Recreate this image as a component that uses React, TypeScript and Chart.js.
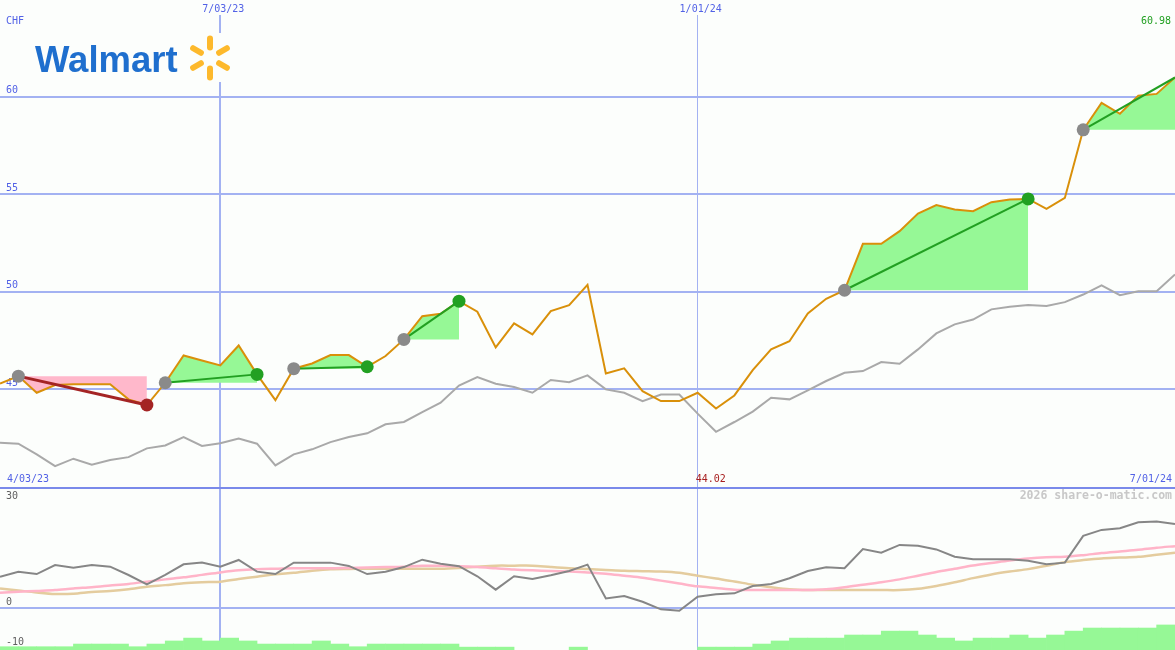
import React, { useEffect, useRef } from 'react';
import { Chart, registerables } from 'chart.js';

Chart.register(...registerables);

// ---------- data ----------
const price = [
  45.3, 45.68, 44.83, 45.22, 45.26, 45.26, 45.26, 44.49, 44.2, 45.34,
  46.74, 46.48, 46.23, 47.25, 45.77, 44.45, 46.06, 46.33, 46.76, 46.76,
  46.16, 46.71, 47.56, 48.75, 48.87, 49.52, 48.98, 47.15, 48.38, 47.82,
  49.01, 49.32, 50.36, 45.82, 46.08, 44.91, 44.4, 44.4, 44.83, 44.02,
  44.69, 45.99, 47.05, 47.47, 48.89, 49.64, 50.08, 52.46, 52.46, 53.11,
  54.01, 54.44, 54.22, 54.13, 54.59, 54.73, 54.76, 54.25, 54.81, 58.3,
  59.68, 59.12, 60.05, 60.14, 60.98,
];

const compare = [
  42.27, 42.22, 41.67, 41.07, 41.45, 41.14, 41.38, 41.53, 41.98, 42.13,
  42.56, 42.1, 42.24, 42.48, 42.22, 41.11, 41.67, 41.93, 42.3, 42.56,
  42.75, 43.21, 43.33, 43.84, 44.32, 45.2, 45.63, 45.29, 45.12, 44.83,
  45.48, 45.37, 45.72, 45.0, 44.83, 44.4, 44.74, 44.74, 43.76, 42.83,
  43.33, 43.86, 44.57, 44.49, 44.95, 45.43, 45.85, 45.94, 46.4, 46.31,
  47.05, 47.87, 48.33, 48.58, 49.1, 49.23, 49.32, 49.27, 49.47, 49.86,
  50.33, 49.83, 50.03, 50.03, 50.89,
];

const momentum = [
  7.56, 8.78, 8.2, 10.4, 9.76, 10.4, 10.0, 7.97, 5.7, 7.97,
  10.58, 10.98, 10.0, 11.63, 8.78, 8.2, 10.98, 10.98, 10.98, 10.17,
  8.2, 8.75, 9.9, 11.7, 10.73, 10.1, 7.66, 4.4, 7.66, 7.0,
  7.9, 8.95, 10.49, 2.25, 2.85, 1.46, -0.4, -0.73, 2.68, 3.27,
  3.5, 5.29, 5.78, 7.17, 8.95, 9.85, 9.6, 14.3, 13.4, 15.3,
  15.1, 14.2, 12.4, 11.8, 11.8, 11.8, 11.46, 10.58, 10.98, 17.5,
  18.95, 19.37, 20.8, 20.98, 20.4,
];

const pinkAvg = [
  3.66, 3.9, 4.1, 4.3, 4.7, 5.0, 5.4, 5.8, 6.35, 6.9,
  7.4, 8.0, 8.6, 9.1, 9.37, 9.5, 9.6, 9.6, 9.6, 9.7,
  9.8, 9.9, 10.0, 10.2, 10.2, 10.1, 9.9, 9.6, 9.3, 9.1,
  8.95, 8.8, 8.6, 8.3, 7.8, 7.3, 6.6, 5.9, 5.2, 4.8,
  4.4, 4.3, 4.3, 4.3, 4.3, 4.5, 5.0, 5.6, 6.2, 6.9,
  7.8, 8.7, 9.5, 10.3, 10.9, 11.5, 12.0, 12.3, 12.4, 12.8,
  13.3, 13.7, 14.1, 14.6, 15.0,
];

const tanAvg = [
  4.7, 4.2, 3.7, 3.34, 3.4, 3.83, 4.07, 4.5, 5.1, 5.5,
  5.95, 6.2, 6.35, 7.0, 7.56, 8.15, 8.5, 9.0, 9.37, 9.45,
  9.5, 9.5, 9.5, 9.5, 9.5, 9.7, 10.0, 10.24, 10.24, 10.24,
  9.9, 9.6, 9.4, 9.2, 9.0, 8.9, 8.8, 8.5, 7.8, 7.1,
  6.4, 5.6, 5.0, 4.5, 4.3, 4.3, 4.3, 4.3, 4.3, 4.3,
  4.6, 5.3, 6.2, 7.2, 8.1, 8.8, 9.4, 10.2, 11.1, 11.6,
  12.0, 12.2, 12.4, 12.9, 13.4,
];

const volumeBars = [
  -9.5, -9.5, -9.5, -9.5, -8.85, -8.85, -8.85, -9.5, -8.85, -8.1,
  -7.4, -8.1, -7.4, -8.1, -8.85, -8.85, -8.85, -8.1, -8.85, -9.5,
  -8.85, -8.85, -8.85, -8.85, -8.85, -9.6, -9.6, -9.6, null, null,
  null, -9.6, null, null, null, null, null, null, -9.6, -9.6,
  -9.6, -8.85, -8.1, -7.4, -7.4, -7.4, -6.65, -6.65, -5.7, -5.7,
  -6.65, -7.4, -8.1, -7.4, -7.4, -6.65, -7.4, -6.65, -5.7, -4.95,
  -4.95, -4.95, -4.95, -4.2,
];

const trendRanges = [[1, 8], [9, 14], [16, 20], [22, 25], [46, 56], [59, 64]];
const trendUp = [false, true, true, true, true, true];
const trendEndDot = [true, true, true, true, true, false];

const dateTickIdx = [12, 38];
const dateTickLabels = ['7/03/23', '1/01/24'];
const priceTicks = [45, 50, 55, 60];
const oscLabels = ['30', '0', '-10'];
const oscLabelValues = [27.2, 1.4, -8.55];
const startLabel = '4/03/23';
const endLabel = '7/01/24';
const minLabel = '44.02';
const lastLabel = '60.98';
const currency = 'CHF';
const watermark = '2026 share-o-matic.com';

// ---------- styles ----------
const BG = '#fcfefc';
const GRID = '#a3b2f2';
const LABEL = '#5262e6';
const MONO = '"DejaVu Sans Mono", monospace';
const LASTIDX = price.length - 1;

const xScale = () => ({
  type: 'linear' as const,
  min: 0,
  max: LASTIDX,
  offset: false,
  afterBuildTicks: (s: any) => {
    s.ticks = dateTickIdx.map((v) => ({ value: v }));
  },
  afterFit: (s: any) => {
    s.height = 0;
  },
  ticks: { display: false },
  border: { display: false },
  grid: {
    color: GRID,
    offset: false,
    drawTicks: false,
    lineWidth: (c: any) => (c.tick && c.tick.value === dateTickIdx[0] ? 2 : 1),
  },
});

const upperPlugin = {
  id: 'upperLabels',
  beforeDatasetsDraw(chart: any) {
    const ctx = chart.ctx;
    const x = chart.scales.x;
    const y = chart.scales.y;
    ctx.save();
    ctx.font = `10px ${MONO}`;
    ctx.textBaseline = 'middle';
    dateTickIdx.forEach((v, k) => {
      const px = x.getPixelForValue(v);
      ctx.fillStyle = BG;
      ctx.fillRect(px - 4, 0, 8, 15);
      ctx.fillStyle = LABEL;
      ctx.textAlign = 'center';
      ctx.fillText(dateTickLabels[k], px + 3, 9);
    });
    ctx.textAlign = 'left';
    ctx.fillStyle = LABEL;
    ctx.fillText(currency, 6, 21.5);
    priceTicks.forEach((v) => {
      ctx.fillText(String(v), 6, y.getPixelForValue(v) - 6);
    });
    ctx.fillText(startLabel, 7, 479);
    ctx.textAlign = 'right';
    ctx.fillText(endLabel, 1172, 479);
    ctx.fillStyle = '#22a022';
    ctx.fillText(lastLabel, 1171, 21);
    ctx.textAlign = 'left';
    ctx.fillStyle = '#a82020';
    ctx.fillText(minLabel, x.getPixelForValue(38) - 2, 479);
    ctx.restore();
  },
  afterDraw(chart: any) {
    const ctx = chart.ctx;
    ctx.save();
    ctx.fillStyle = BG;
    ctx.fillRect(30, 33, 210, 49);
    ctx.fillStyle = '#1f6fce';
    ctx.font = 'bold 36.5px "Liberation Sans", Arial, sans-serif';
    ctx.textBaseline = 'alphabetic';
    ctx.textAlign = 'left';
    ctx.fillText('Walmart', 35, 72);
    const cx = 210;
    const cy = 58;
    ctx.strokeStyle = '#fdb92c';
    ctx.lineWidth = 6;
    ctx.lineCap = 'round';
    [-90, -30, 30, 90, 150, 210].forEach((deg) => {
      const a = (deg * Math.PI) / 180;
      ctx.beginPath();
      ctx.moveTo(cx + Math.cos(a) * 10.5, cy + Math.sin(a) * 10.5);
      ctx.lineTo(cx + Math.cos(a) * 19.5, cy + Math.sin(a) * 19.5);
      ctx.stroke();
    });
    ctx.restore();
  },
};

const lowerPlugin = {
  id: 'lowerLabels',
  beforeDatasetsDraw(chart: any) {
    const ctx = chart.ctx;
    const y = chart.scales.y;
    ctx.save();
    ctx.font = `10px ${MONO}`;
    ctx.textBaseline = 'middle';
    ctx.textAlign = 'left';
    ctx.fillStyle = '#606060';
    oscLabels.forEach((t, k) => {
      ctx.fillText(t, 6, y.getPixelForValue(oscLabelValues[k]));
    });
    ctx.restore();
  },
  afterDraw(chart: any) {
    const ctx = chart.ctx;
    ctx.save();
    ctx.fillStyle = '#7a8aea';
    ctx.fillRect(0, 0, chart.width, 2);
    ctx.font = `bold 11.5px ${MONO}`;
    ctx.textBaseline = 'middle';
    ctx.textAlign = 'right';
    ctx.fillStyle = '#c8c8c8';
    ctx.fillText(watermark, 1172, 9);
    ctx.restore();
  },
};

export default function App() {
  const topRef = useRef<HTMLCanvasElement>(null);
  const botRef = useRef<HTMLCanvasElement>(null);

  useEffect(() => {
    const pts = (arr: (number | null)[]) => arr.map((v, i) => ({ x: i, y: v }));

    const upperSets: any[] = [];
    trendRanges.forEach(([s, e], k) => {
      const col = trendUp[k] ? '#22a022' : '#a42424';
      upperSets.push({
        type: 'line',
        data: [
          { x: s, y: price[s] },
          { x: e, y: price[e] },
        ],
        borderColor: col,
        borderWidth: trendUp[k] ? 2 : 3,
        pointRadius: [6.5, trendEndDot[k] ? 6.5 : 0],
        pointBackgroundColor: ['#8a8a8a', col],
        pointBorderWidth: 0,
        fill: false,
      });
    });
    upperSets.push({
      type: 'line',
      data: pts(price),
      borderColor: '#d9900a',
      borderWidth: 2,
      pointRadius: 0,
      fill: false,
    });
    trendRanges.forEach(([s, e], k) => {
      const seg = price.slice(s, e + 1).map((v, j) => ({ x: s + j, y: v }));
      upperSets.push({
        type: 'line',
        data: seg,
        borderWidth: 0,
        borderColor: 'rgba(0,0,0,0)',
        pointRadius: 0,
        fill: { value: price[s] },
        backgroundColor: trendUp[k] ? '#96f896' : '#ffb8cb',
      });
    });
    upperSets.push({
      type: 'line',
      data: pts(compare),
      borderColor: '#a9a9a9',
      borderWidth: 2,
      pointRadius: 0,
      fill: false,
    });

    const c1 = new Chart(topRef.current as HTMLCanvasElement, {
      type: 'line',
      data: { datasets: upperSets },
      options: {
        responsive: false,
        animation: false,
        devicePixelRatio: 1,
        layout: { padding: 0, autoPadding: false },
        plugins: { legend: { display: false }, tooltip: { enabled: false } },
        scales: {
          x: xScale(),
          y: {
            type: 'linear',
            min: 40,
            max: 64.95,
            afterBuildTicks: (s: any) => {
              s.ticks = priceTicks.map((v) => ({ value: v }));
            },
            afterFit: (s: any) => {
              s.width = 0;
            },
            ticks: { display: false },
            border: { display: false },
            grid: { color: GRID, lineWidth: 2, drawTicks: false },
          },
        },
      } as any,
      plugins: [upperPlugin],
    });

    const c2 = new Chart(botRef.current as HTMLCanvasElement, {
      type: 'line',
      data: {
        datasets: [
          {
            type: 'line',
            data: pts(momentum),
            borderColor: '#868686',
            borderWidth: 2,
            pointRadius: 0,
            fill: false,
          },
          {
            type: 'line',
            data: pts(pinkAvg),
            borderColor: '#ffb4c8',
            borderWidth: 2.5,
            pointRadius: 0,
            tension: 0.3,
            fill: false,
          },
          {
            type: 'line',
            data: pts(tanAvg),
            borderColor: '#e4cc9e',
            borderWidth: 2.5,
            pointRadius: 0,
            tension: 0.3,
            fill: false,
          },
          {
            type: 'bar',
            data: volumeBars.map((v, i) => ({ x: i + 0.5, y: v })),
            backgroundColor: '#96f896',
            borderWidth: 0,
            base: -10.3,
            barPercentage: 1,
            categoryPercentage: 1,
            grouped: false,
          },
        ] as any,
      },
      options: {
        responsive: false,
        animation: false,
        devicePixelRatio: 1,
        layout: { padding: 0, autoPadding: false },
        plugins: { legend: { display: false }, tooltip: { enabled: false } },
        scales: {
          x: xScale(),
          y: {
            type: 'linear',
            min: -10.3,
            max: 29.4,
            afterBuildTicks: (s: any) => {
              s.ticks = [{ value: 0 }];
            },
            afterFit: (s: any) => {
              s.width = 0;
            },
            ticks: { display: false },
            border: { display: false },
            grid: { color: GRID, lineWidth: 2, drawTicks: false },
          },
        },
      } as any,
      plugins: [lowerPlugin],
    });

    return () => {
      c1.destroy();
      c2.destroy();
    };
  }, []);

  return (
    <div
      style={{
        position: 'absolute',
        left: 0,
        top: 0,
        width: 1175,
        height: 650,
        background: BG,
        overflow: 'hidden',
      }}
    >
      <canvas ref={topRef} width={1175} height={487} style={{ position: 'absolute', left: 0, top: 0 }} />
      <canvas ref={botRef} width={1175} height={163} style={{ position: 'absolute', left: 0, top: 487 }} />
    </div>
  );
}
